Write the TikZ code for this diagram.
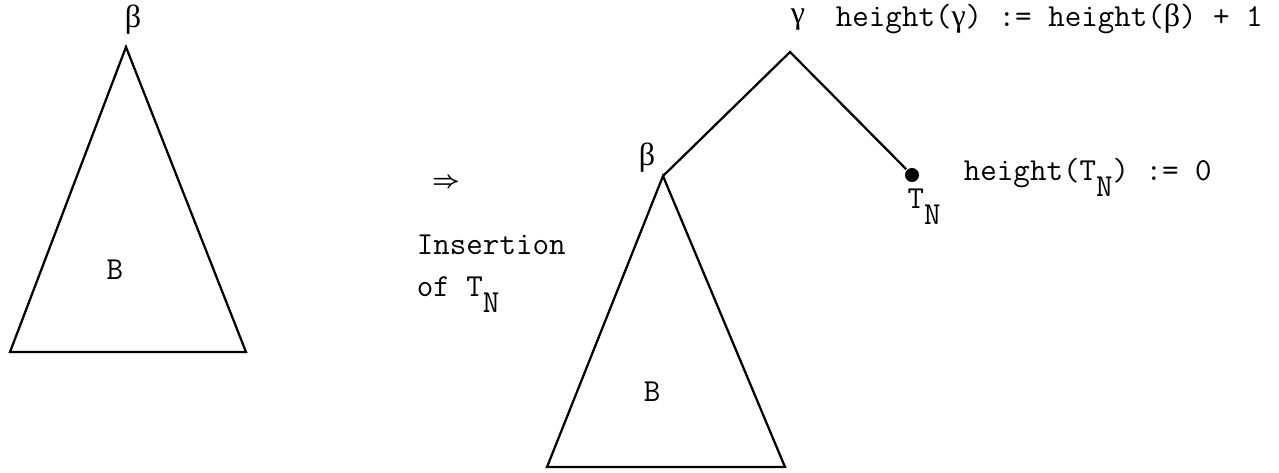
\documentclass[tikz,border=0pt]{standalone}
\usepackage{amsmath}
\usepackage{fontspec}
\setmainfont{Latin Modern Mono}
\newfontfamily\grk{Liberation Serif}
\newcommand{\sub}[1]{\raisebox{-6pt}{#1}}

\begin{document}
\begin{tikzpicture}[x=0.0125cm,y=-0.0125cm,line width=0.8pt,
    lbl/.style={inner sep=1pt,font=\fontsize{11.4}{13}\selectfont}]
    \useasboundingbox (0,0) rectangle (1279,472);
    % left tree
    \coordinate (topL) at (126,47);
    \coordinate (bl1) at (10,352);
    \coordinate (br1) at (246,352);
    \draw (bl1) -- (topL) -- (br1) -- cycle;
    \node[lbl] (betaL) at (133,20) {\grk β};
    \node[lbl] (bL) at (115,270) {B};
    % arrow and caption
    \node[lbl,font=\footnotesize] (arr) at (446,183) {$\boldsymbol{\Rightarrow}$};
    \node[lbl,anchor=base west] (ins) at (413,254) {Insertion};
    \node[lbl,anchor=base west] (of) at (413,296) {of T\sub{N}};
    % right tree
    \coordinate (gam) at (790,52);
    \coordinate (topR) at (663,176);
    \coordinate (bl2) at (547,467);
    \coordinate (br2) at (785,467);
    \node[circle,fill,inner sep=0pt,minimum size=5pt] (tn) at (912,175) {};
    \draw (topR) -- (gam) -- (tn);
    \draw (bl2) -- (topR) -- (br2) -- cycle;
    \node[lbl] (gamL) at (798,20) {\grk γ};
    \node[lbl] (betaR) at (647,158) {\grk β};
    \node[lbl] (bR) at (652,392) {B};
    \node[lbl,anchor=base] (tnL) at (924,208) {T\sub{N}};
    \node[lbl,anchor=west] (hg) at (832,19) {height({\grk γ}) := height({\grk β}) + 1};
    \node[lbl,anchor=base west] (ht) at (960,180) {height(T\sub{N}) := 0};
\end{tikzpicture}
\end{document}
